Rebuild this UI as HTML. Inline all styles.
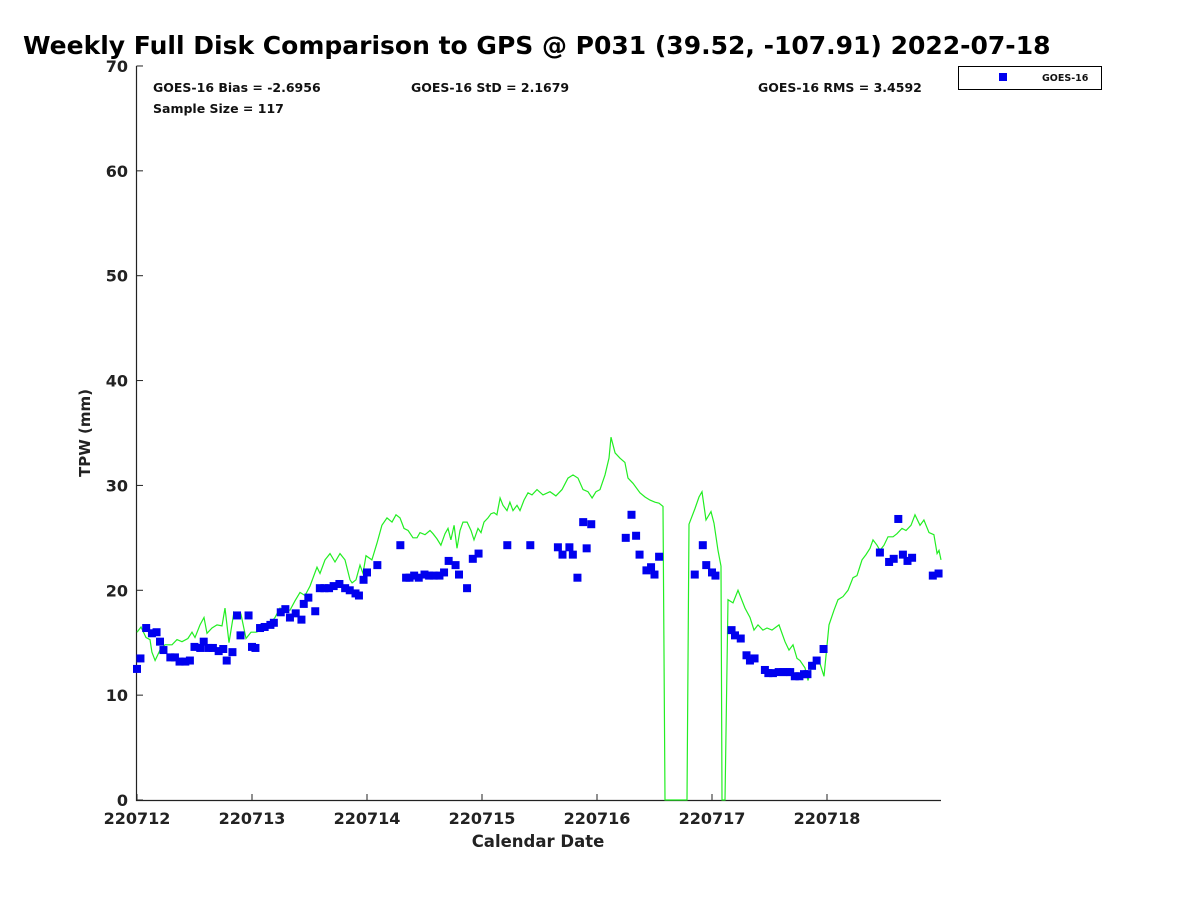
<!DOCTYPE html>
<html><head><meta charset="utf-8"><style>
body{margin:0;background:#fff;font-family:"Liberation Sans","DejaVu Sans",sans-serif}
svg text{font-family:"DejaVu Sans","Liberation Sans",sans-serif;font-weight:bold}
</style></head><body>
<svg id="chart" width="1200" height="900" xmlns="http://www.w3.org/2000/svg">
<text x="23" y="54" font-size="25" fill="#000">Weekly Full Disk Comparison to GPS @ P031 (39.52, -107.91) 2022-07-18</text>
<g font-size="12.5" fill="#111">
<text x="153" y="92">GOES-16 Bias = -2.6956</text>
<text x="153" y="113">Sample Size = 117</text>
<text x="411" y="92">GOES-16 StD = 2.1679</text>
<text x="758" y="92">GOES-16 RMS = 3.4592</text>
</g>
<g>
<rect x="958.5" y="66.5" width="143" height="23" fill="#fff" stroke="#000" stroke-width="1"/>
<rect x="999" y="73" width="8" height="8" fill="#0000ee"/>
<text x="1042" y="81" font-size="9.5" fill="#111">GOES-16</text>
</g>
<g id="axes"></g>
<g id="marks"></g>
<text transform="translate(90,433) rotate(-90)" text-anchor="middle" font-size="15" fill="#222">TPW (mm)</text>
<text x="538" y="847" text-anchor="middle" font-size="16.5" fill="#222">Calendar Date</text>
</svg>
<script>
const xTickLabels=["220712","220713","220714","220715","220716","220717","220718"];
const yTickLabels=[0,10,20,30,40,50,60,70];
const gpsDays=[0,.035,.078,.113,.13,.157,.2,.243,.304,.348,.391,.443,.478,.504,.548,.583,.609,.652,.696,.739,.765,.8,.843,.878,.904,.948,.991,1.035,1.087,1.113,1.157,1.2,1.243,1.287,1.33,1.374,1.417,1.461,1.504,1.565,1.591,1.635,1.678,1.722,1.765,1.809,1.852,1.87,1.904,1.939,1.965,1.991,2.043,2.087,2.13,2.174,2.217,2.252,2.287,2.322,2.357,2.4,2.435,2.461,2.504,2.548,2.574,2.609,2.643,2.678,2.704,2.73,2.757,2.783,2.809,2.835,2.87,2.904,2.93,2.965,2.991,3.017,3.052,3.078,3.104,3.13,3.157,3.183,3.217,3.243,3.27,3.304,3.33,3.365,3.4,3.435,3.478,3.53,3.591,3.643,3.696,3.748,3.791,3.835,3.878,3.922,3.957,3.991,4.026,4.07,4.104,4.122,4.157,4.2,4.243,4.27,4.313,4.374,4.417,4.461,4.504,4.539,4.574,4.591,4.783,4.8,4.852,4.887,4.913,4.948,4.991,5.017,5.052,5.078,5.087,5.113,5.139,5.183,5.226,5.287,5.33,5.365,5.4,5.443,5.478,5.522,5.583,5.635,5.67,5.704,5.739,5.765,5.809,5.835,5.87,5.904,5.939,5.974,6.017,6.061,6.096,6.139,6.183,6.226,6.261,6.304,6.339,6.374,6.4,6.435,6.461,6.496,6.53,6.574,6.609,6.652,6.687,6.73,6.765,6.809,6.843,6.887,6.93,6.957,6.974,6.991];
const gpsValues=[16.0,16.5,15.5,15.3,14.1,13.3,14.3,14.8,14.8,15.3,15.1,15.4,16.0,15.5,16.7,17.4,15.9,16.4,16.7,16.6,18.3,15.0,17.9,17.4,17.7,15.4,16.0,16.0,16.2,16.8,16.8,17.4,18.3,18.1,18.1,19.0,19.8,19.5,20.4,22.2,21.6,22.9,23.5,22.7,23.5,22.9,21.0,20.7,21.0,22.4,21.6,23.3,22.9,24.5,26.2,26.9,26.5,27.2,26.9,25.9,25.7,25.0,25.0,25.5,25.3,25.7,25.4,24.9,24.3,25.4,25.9,24.8,26.2,24.0,25.7,26.5,26.5,25.7,24.8,25.9,25.5,26.5,26.9,27.3,27.4,27.2,28.8,28.1,27.6,28.4,27.6,28.1,27.6,28.6,29.3,29.1,29.6,29.1,29.4,29.0,29.6,30.7,31.0,30.7,29.6,29.4,28.8,29.4,29.6,31.0,32.6,34.6,33.1,32.6,32.2,30.7,30.2,29.3,28.9,28.6,28.4,28.3,28.0,0,0,26.3,27.8,28.9,29.4,26.7,27.5,26.4,23.8,22.3,0,0,19.1,18.8,20.0,18.3,17.4,16.2,16.7,16.2,16.4,16.2,16.7,15.1,14.3,14.8,13.5,13.3,12.6,11.4,12.9,13.5,13.0,11.8,16.7,18.1,19.1,19.4,20.0,21.2,21.4,22.9,23.4,24.0,24.8,24.3,23.8,24.3,25.1,25.1,25.4,25.9,25.7,26.2,27.2,26.2,26.7,25.5,25.3,23.5,23.8,22.9];
const goesDays=[0,.03,.08,.13,.17,.2,.23,.29,.33,.37,.42,.46,.5,.55,.58,.62,.66,.71,.75,.78,.83,.87,.9,.97,1,1.03,1.07,1.11,1.16,1.19,1.25,1.29,1.33,1.38,1.43,1.45,1.49,1.55,1.59,1.63,1.67,1.71,1.76,1.81,1.85,1.9,1.93,1.97,2,2.09,2.29,2.34,2.37,2.41,2.45,2.5,2.54,2.58,2.63,2.67,2.71,2.77,2.8,2.87,2.92,2.97,3.22,3.42,3.66,3.7,3.76,3.79,3.83,3.88,3.91,3.95,4.25,4.3,4.34,4.37,4.43,4.47,4.5,4.54,4.85,4.92,4.95,5,5.03,5.17,5.2,5.25,5.3,5.33,5.37,5.46,5.49,5.53,5.58,5.62,5.65,5.68,5.72,5.76,5.8,5.83,5.87,5.91,5.97,6.46,6.54,6.58,6.62,6.66,6.7,6.74,6.92,6.97];
const goesValues=[12.5,13.5,16.4,15.9,16.0,15.1,14.3,13.6,13.6,13.2,13.2,13.3,14.6,14.5,15.1,14.5,14.5,14.2,14.4,13.3,14.1,17.6,15.7,17.6,14.6,14.5,16.4,16.5,16.7,16.9,17.9,18.2,17.4,17.8,17.2,18.7,19.3,18.0,20.2,20.2,20.2,20.4,20.6,20.2,20.0,19.7,19.5,21.0,21.7,22.4,24.3,21.2,21.2,21.4,21.2,21.5,21.4,21.4,21.4,21.7,22.8,22.4,21.5,20.2,23.0,23.5,24.3,24.3,24.1,23.4,24.1,23.4,21.2,26.5,24.0,26.3,25.0,27.2,25.2,23.4,21.9,22.2,21.5,23.2,21.5,24.3,22.4,21.7,21.4,16.2,15.7,15.4,13.8,13.3,13.5,12.4,12.1,12.1,12.2,12.2,12.2,12.2,11.8,11.8,12.0,12.0,12.8,13.3,14.4,23.6,22.7,23.0,26.8,23.4,22.8,23.1,21.4,21.6];
const X0=137,DAYW=115,Y0=800,YS=10.486;
const xs=d=>X0+d*DAYW, ys=v=>Y0-v*YS;
const NS="http://www.w3.org/2000/svg";
const axes=document.getElementById('axes'),marks=document.getElementById('marks');
function mk(tag,attrs,parent){const e=document.createElementNS(NS,tag);for(const k in attrs)e.setAttribute(k,attrs[k]);parent.appendChild(e);return e;}
let ax=mk('path',{d:`M136.5,66 V800.5 H941`,fill:'none',stroke:'#222','stroke-width':1.2},axes);


yTickLabels.forEach(v=>{const y=ys(v);
 const t=mk('line',{x1:136.5,x2:143,y1:y,y2:y,stroke:'#222'},axes);
 
 
 const l=mk('text',{x:128,y:y+6,'text-anchor':'end','font-size':16,fill:'#222'},axes);l.textContent=v;
 
 
});
xTickLabels.forEach((s,i)=>{const x=xs(i);
 const t=mk('line',{x1:x,x2:x,y1:800,y2:794,stroke:'#222'},axes);
 
 
 const l=mk('text',{x:x,y:824,'text-anchor':'middle','font-size':16,fill:'#222'},axes);l.textContent=s;
 
 
});
const line=mk('polyline',{points:gpsDays.map((d,i)=>xs(d).toFixed(1)+','+ys(gpsValues[i]).toFixed(1)).join(' '),fill:'none',stroke:'#22ee22','stroke-width':1.2},marks);


goesDays.forEach((d,i)=>{const r=mk('rect',{x:xs(d)-4,y:ys(goesValues[i])-4,width:8,height:8,fill:'#0000ee'},marks);
 
 
});
</script>
</body></html>
